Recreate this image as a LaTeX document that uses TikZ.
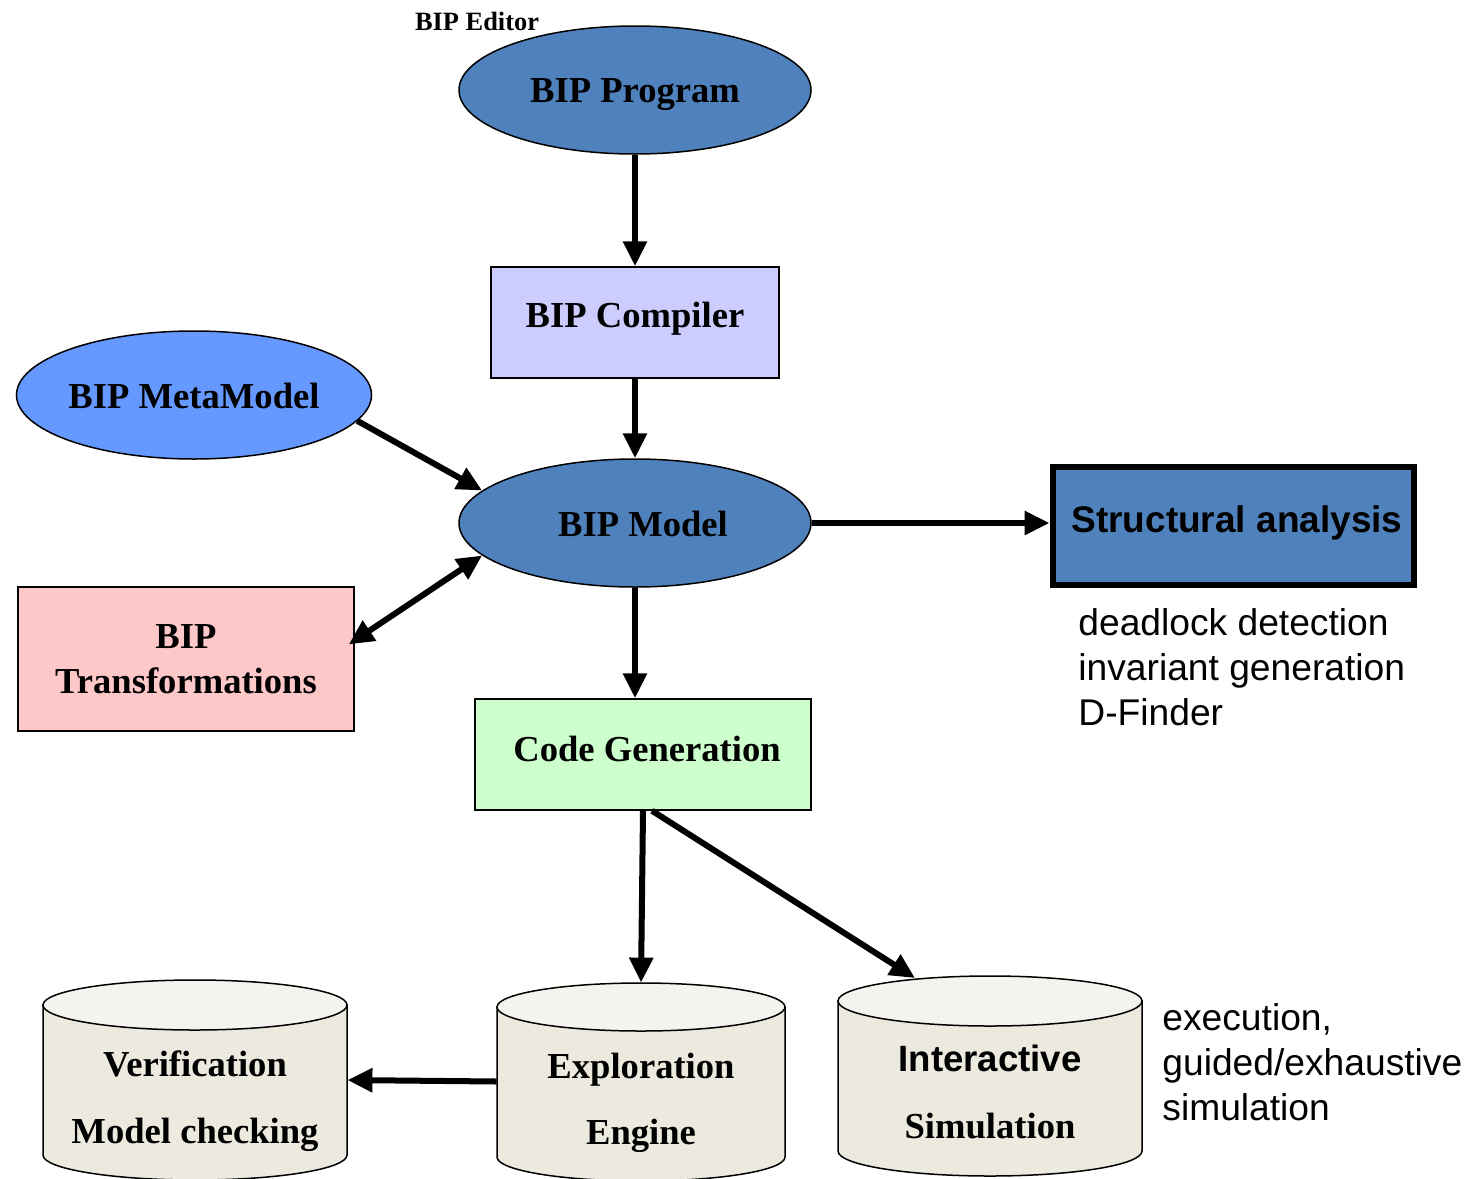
\documentclass[tikz,border=0pt]{standalone}
\usepackage{fontspec}
\setmainfont{Liberation Serif}
\setsansfont{Liberation Sans}
\usetikzlibrary{arrows.meta,shapes.geometric,calc}
\definecolor{progblue}{HTML}{4F81BD}
\definecolor{metablue}{HTML}{6699FF}
\definecolor{complav}{HTML}{CCCCFF}
\definecolor{transpink}{HTML}{FFC8C8}
\definecolor{codegreen}{HTML}{CCFFCC}
\definecolor{cylbody}{HTML}{ECE9DF}
\definecolor{cyltop}{HTML}{F4F3EE}
\newcommand{\drawcyl}[5]{%
  \filldraw[fill=cylbody, line width=0.75pt] (#1-#2,-#3) -- (#1-#2,-#4)
    arc[start angle=180,end angle=360,x radius=#2,y radius=#5] -- (#1+#2,-#3) -- cycle;
  \filldraw[fill=cyltop, line width=0.75pt] (#1,-#3) ellipse[x radius=#2,y radius=#5];
}
\begin{document}
\begin{tikzpicture}[x=0.5pt,y=0.5pt,
  lbl/.style={font=\fontsize{18.3}{22.5}\selectfont\bfseries},
  sanslbl/.style={font=\fontsize{18.5}{22.5}\selectfont\sffamily\bfseries},
  plain/.style={font=\fontsize{18.6}{22.5}\selectfont\sffamily, inner sep=0pt, anchor=base west},
  cyltext/.style={lbl, inner sep=0pt, anchor=base},
  ellnode/.style={ellipse, draw=black, line width=0.75pt, minimum width=176pt, minimum height=64pt, inner sep=0pt, lbl},
  boxnode/.style={rectangle, draw=black, line width=0.75pt, inner sep=0pt, lbl, align=center},
  cylnode/.style={rectangle, inner sep=0pt},
  arr/.style={line width=3pt, -{Triangle[length=12.5pt,width=11.5pt]}},
  dblarr/.style={line width=3pt, {Triangle[length=12.5pt,width=11.5pt]}-{Triangle[length=12.5pt,width=11.5pt]}}
]
\useasboundingbox (0,0) rectangle (1476,-1178);
\clip (0,0) rectangle (1476,-1178);

% title
\node[font=\fontsize{13.2}{15}\selectfont\bfseries, inner sep=0pt, anchor=base] (editor) at (477,-30) {BIP Editor};

% main nodes
\node[ellnode, fill=progblue, text height=12pt, text depth=0pt] (prog) at (635,-90) {BIP Program};
\node[boxnode, fill=complav, minimum width=144pt, minimum height=55.5pt, text height=12pt, text depth=7.5pt] (comp) at (635,-322.5) {BIP Compiler};
\node[ellnode, fill=metablue, text height=13pt, text depth=0pt] (meta) at (194,-395) {BIP MetaModel};
\node[ellnode, fill=progblue, text height=13pt, text depth=0pt] (model) at (635,-523) {\hspace*{8pt}BIP Model};
\node[boxnode, fill=progblue, line width=3pt, minimum width=180.5pt, minimum height=59pt, sanslbl, text height=12pt, text depth=5.5pt] (struct) at (1233,-525.5) {\hspace*{4pt}Structural analysis};
\node[boxnode, fill=transpink, minimum width=168pt, minimum height=72pt] (trans) at (186,-659) {BIP\\Transformations};
\node[boxnode, fill=codegreen, minimum width=168pt, minimum height=55.5pt, text height=12pt, text depth=5.5pt] (code) at (643,-754.5) {\hspace*{4pt}Code Generation};

% side texts
\node[plain] (sa1) at (1078,-635) {deadlock detection};
\node[plain] (sa2) at (1078,-680) {invariant generation};
\node[plain] (sa3) at (1078,-725) {D-Finder};
\node[plain] (ex1) at (1162,-1030) {execution,};
\node[plain] (ex2) at (1162,-1075) {guided/exhaustive};
\node[plain] (ex3) at (1162,-1120) {simulation};

% cylinders
\drawcyl{195}{152}{1005}{1155}{25}
\drawcyl{641}{144}{1007}{1157}{24}
\drawcyl{990}{152}{1001}{1151}{25}
\node[cylnode, minimum width=152pt, minimum height=100pt] (verif) at (195,-1080) {};
\node[cylnode, minimum width=144pt, minimum height=98.5pt] (expl) at (641,-1081.5) {};
\node[cylnode, minimum width=152pt, minimum height=100pt] (inter) at (990,-1076) {};
\coordinate (intertip) at (915,-978);

\node[cyltext] (v1) at (195,-1076) {Verification};
\node[cyltext] (v2) at (195,-1143) {Model checking};
\node[cyltext] (e1) at (641,-1078) {Exploration};
\node[cyltext] (e2) at (641,-1144) {Engine};
\node[cyltext, font=\fontsize{18.3}{22.5}\selectfont\sffamily\bfseries] (i1) at (990,-1071) {Interactive};
\node[cyltext] (i2) at (990,-1138) {Simulation};

% connectors
\draw[arr] (prog.south) -- (comp.north);
\draw[arr] (comp.south) -- (model.north);
\draw[arr] (meta.-9) -- (model.168);
\draw[dblarr] ($(trans.north east)!0.4!(trans.south east)+(-6,0)$) -- (model.192);
\draw[arr] (model.east) -- (model.east -| struct.west);
\draw[arr] (model.south) -- (model.south |- code.north);
\draw[arr] (code.south) -- (expl.north);
\draw[arr] ([xshift=4.5pt]code.south) -- (intertip);
\draw[arr] (expl.west) -- (verif.east);
\end{tikzpicture}
\end{document}
